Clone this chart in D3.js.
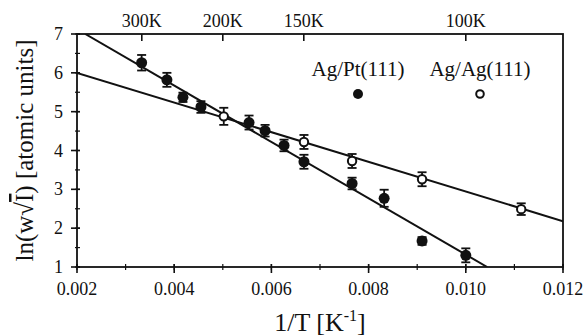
<!DOCTYPE html>
<html>
<head>
<meta charset="utf-8">
<script src="https://cdn.jsdelivr.net/npm/d3@7"></script>
<style>
  body { margin: 0; background: #fff; }
  text { font-family: "Liberation Serif", serif; fill: #111; }
</style>
</head>
<body>
<svg id="chart" width="584" height="336"></svg>
<script>
// data
const xTicks = [0.002, 0.004, 0.006, 0.008, 0.010, 0.012];
const yTicks = [1, 2, 3, 4, 5, 6, 7];
const tempTicks = [300, 200, 150, 100];

// Ag/Pt(111), filled
const ptX = [0.00333, 0.00385, 0.00418, 0.00455, 0.00554, 0.00587, 0.00626, 0.00667, 0.00766, 0.00832, 0.0091, 0.0100];
const ptY = [6.26, 5.82, 5.37, 5.12, 4.72, 4.51, 4.13, 3.71, 3.15, 2.77, 1.67, 1.30];
const ptErr = [0.2, 0.18, 0.12, 0.15, 0.18, 0.15, 0.15, 0.18, 0.15, 0.22, 0.1, 0.18];

// Ag/Ag(111), open
const agX = [0.00502, 0.00667, 0.00766, 0.0091, 0.01114];
const agY = [4.88, 4.22, 3.73, 3.26, 2.49];
const agErr = [0.22, 0.18, 0.18, 0.18, 0.15];

// fitted lines, endpoints
const ptFitX = [0.00217, 0.01044];
const ptFitY = [7.0, 1.0];
const agFitX = [0.002, 0.012];
const agFitY = [6.0, 2.18];

const svg = d3.select('#chart');
const margin = { top: 34, right: 21, bottom: 69, left: 77 };
const width = +svg.attr('width');
const height = +svg.attr('height');

const x = d3.scaleLinear().domain([0.002, 0.012]).range([margin.left, width - margin.right]);
const y = d3.scaleLinear().domain([1, 7]).range([height - margin.bottom, margin.top]);

const x0 = x.range()[0], x1 = x.range()[1];
const y0 = y.range()[0], y1 = y.range()[1];

// frame
svg.append('rect')
  .attr('x', x0).attr('y', y1)
  .attr('width', x1 - x0).attr('height', y0 - y1)
  .attr('fill', 'none').attr('stroke', '#111').attr('stroke-width', 1.8);

// bottom axis
const xMinor = d3.range(0.002, 0.0121, 0.001);
svg.append('g').selectAll('line').data(xMinor).join('line')
  .attr('x1', d => x(d)).attr('x2', d => x(d))
  .attr('y1', y0 - 3).attr('y2', y0 + 3)
  .attr('stroke', '#111').attr('stroke-width', 1.2);
svg.append('g').selectAll('line').data(xTicks).join('line')
  .attr('x1', d => x(d)).attr('x2', d => x(d))
  .attr('y1', y0 - 3).attr('y2', y0 + 6)
  .attr('stroke', '#111').attr('stroke-width', 1.6);
svg.append('g').selectAll('text').data(xTicks).join('text')
  .attr('x', d => x(d)).attr('y', y0 + 28)
  .attr('text-anchor', 'middle')
  .style('font-size', '18px')
  .text(d => d3.format('.3f')(d));

// left axis
const yMinor = d3.range(1, 7.01, 0.5);
svg.append('g').selectAll('line').data(yMinor).join('line')
  .attr('x1', x0 - 2).attr('x2', x0 + 3)
  .attr('y1', d => y(d)).attr('y2', d => y(d))
  .attr('stroke', '#111').attr('stroke-width', 1.2);
svg.append('g').selectAll('line').data(yTicks).join('line')
  .attr('x1', x0 - 6).attr('x2', x0 + 3)
  .attr('y1', d => y(d)).attr('y2', d => y(d))
  .attr('stroke', '#111').attr('stroke-width', 1.6);
svg.append('g').selectAll('text').data(yTicks).join('text')
  .attr('x', x0 - 14).attr('y', d => y(d) + 6)
  .attr('text-anchor', 'end')
  .style('font-size', '18px')
  .text(d => d);

// top axis: temperature
svg.append('g').selectAll('line').data(tempTicks).join('line')
  .attr('x1', d => x(1 / d)).attr('x2', d => x(1 / d))
  .attr('y1', y1).attr('y2', y1 + 7)
  .attr('stroke', '#111').attr('stroke-width', 1.6);
svg.append('g').selectAll('text').data(tempTicks).join('text')
  .attr('x', d => x(1 / d)).attr('y', y1 - 7)
  .attr('text-anchor', 'middle')
  .style('font-size', '18px')
  .text(d => d + 'K');

// axis titles
const xt = svg.append('text')
  .attr('x', (x0 + x1) / 2).attr('y', 331)
  .attr('text-anchor', 'middle')
  .style('font-size', '26px');
xt.append('tspan').text('1/T [K');
xt.append('tspan').attr('dy', -10).style('font-size', '16px').text('-1');
xt.append('tspan').attr('dy', 10).text(']');

const yt = svg.append('text')
  .attr('transform', `translate(33,${(y0 + y1) / 2}) rotate(-90)`)
  .attr('text-anchor', 'middle')
  .style('font-size', '25px');
yt.append('tspan').text('ln(w√');
yt.append('tspan').style('text-decoration', 'overline').text('I');
yt.append('tspan').text(') [atomic units]');

// fit lines
const clip = svg.append('clipPath').attr('id', 'plot')
  .append('rect').attr('x', x0).attr('y', y1).attr('width', x1 - x0).attr('height', y0 - y1);
const line = d3.line().x(d => x(d[0])).y(d => y(d[1]));
const plot = svg.append('g').attr('clip-path', 'url(#plot)');
plot.append('path').datum(d3.zip(ptFitX, ptFitY)).attr('d', line)
  .attr('fill', 'none').attr('stroke', '#111').attr('stroke-width', 2);
plot.append('path').datum(d3.zip(agFitX, agFitY)).attr('d', line)
  .attr('fill', 'none').attr('stroke', '#111').attr('stroke-width', 2);

// points with error bars
function drawSeries(xs, ys, errs, filled) {
  const data = xs.map((v, i) => ({ x: v, y: ys[i], e: errs[i] }));
  const g = svg.append('g');
  const pts = g.selectAll('g').data(data).join('g');
  pts.append('line')
    .attr('x1', d => x(d.x)).attr('x2', d => x(d.x))
    .attr('y1', d => y(d.y - d.e)).attr('y2', d => y(d.y + d.e))
    .attr('stroke', '#111').attr('stroke-width', 1.8);
  pts.append('line')
    .attr('x1', d => x(d.x) - 4.5).attr('x2', d => x(d.x) + 4.5)
    .attr('y1', d => y(d.y + d.e)).attr('y2', d => y(d.y + d.e))
    .attr('stroke', '#111').attr('stroke-width', 1.8);
  pts.append('line')
    .attr('x1', d => x(d.x) - 4.5).attr('x2', d => x(d.x) + 4.5)
    .attr('y1', d => y(d.y - d.e)).attr('y2', d => y(d.y - d.e))
    .attr('stroke', '#111').attr('stroke-width', 1.8);
  pts.append('circle')
    .attr('cx', d => x(d.x)).attr('cy', d => y(d.y))
    .attr('r', filled ? 5.5 : 4.2)
    .attr('fill', filled ? '#111' : '#fff')
    .attr('stroke', '#111').attr('stroke-width', filled ? 0 : 2);
}
drawSeries(ptX, ptY, ptErr, true);
drawSeries(agX, agY, agErr, false);

// legend
const legend = [
  { label: 'Ag/Pt(111)', cx: 358, filled: true },
  { label: 'Ag/Ag(111)', cx: 480, filled: false }
];
const lg = svg.append('g').selectAll('g').data(legend).join('g');
lg.append('text')
  .attr('x', d => d.cx).attr('y', 76)
  .attr('text-anchor', 'middle')
  .style('font-size', '21px')
  .text(d => d.label);
lg.append('circle')
  .attr('cx', d => d.cx).attr('cy', 94)
  .attr('r', d => d.filled ? 5 : 3.8)
  .attr('fill', d => d.filled ? '#111' : '#fff')
  .attr('stroke', '#111').attr('stroke-width', d => d.filled ? 0 : 2);
</script>
</body>
</html>
